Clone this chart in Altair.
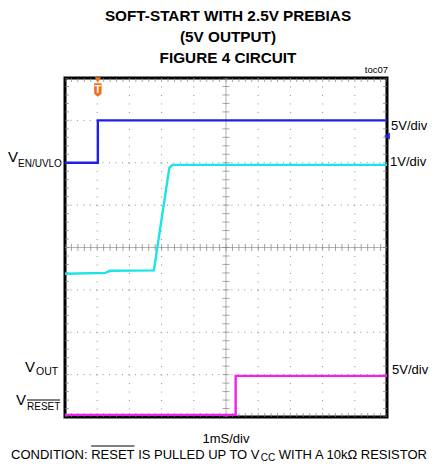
import altair as alt
import pandas as pd

# ---- scope readings, in screen divisions (x: 10 div at 1 ms/div, y: 8 div) ----
en_x = [0.0, 1.02, 1.02, 10.0]          # V_EN/UVLO (5V/div)
en_y = [6.00, 6.00, 7.00, 7.00]
vout_x = [0.0, 1.25, 1.40, 2.76, 3.24, 3.34, 10.0]   # V_OUT (1V/div)
vout_y = [3.38, 3.40, 3.45, 3.46, 5.88, 5.95, 5.95]
rst_x = [0.0, 5.30, 5.30, 10.0]         # V_RESET (5V/div)
rst_y = [0.05, 0.05, 0.97, 0.97]

trigger_x = [1.02]
ch_marker_y = [6.63]

grid_x = [1, 2, 3, 4, 6, 7, 8, 9]
grid_y = [1, 2, 3, 5, 6, 7]
minor_x = [i / 5 for i in range(51)]
minor_y = [i / 5 for i in range(41)]

BLUE = "#2020e6"
CYAN = "#18e4ea"
MAGENTA = "#ee22ee"
ORANGE = "#f07020"
GRIDC = "#8a8a8a"
FONT = "Liberation Sans, Arial, sans-serif"

# Arial / Liberation Sans advance widths (per 1000 em) for text layout
AW = {c: 722 for c in "CDHNRU"}
AW.update({"O": 778, "I": 278, "T": 611, ":": 278, " ": 278, "E": 667, "S": 667,
           "P": 667, "L": 556, "V": 667, "W": 944, "A": 667, "1": 556, "0": 556,
           "k": 500, "\u03a9": 768})

def tw(s, size):
    return sum(AW.get(c, 600) for c in s) * size / 1000.0

W, H = 322, 339
xs = alt.Scale(domain=[0, 10], nice=False, zero=False)
ys = alt.Scale(domain=[0, 8], nice=False, zero=False)

traces = pd.concat([
    pd.DataFrame({"t": en_x, "v": en_y, "ch": "EN", "o": range(len(en_x))}),
    pd.DataFrame({"t": vout_x, "v": vout_y, "ch": "OUT", "o": range(len(vout_x))}),
    pd.DataFrame({"t": rst_x, "v": rst_y, "ch": "RST", "o": range(len(rst_x))}),
])

hgrid = alt.Chart(pd.DataFrame({"y": grid_y})).mark_rule(
    color=GRIDC, strokeWidth=1, strokeDash=[1, 5.44]
).encode(y=alt.Y("y:Q", scale=ys, axis=None))

vgrid = alt.Chart(pd.DataFrame({"x": grid_x})).mark_rule(
    color=GRIDC, strokeWidth=1, strokeDash=[1, 7.475]
).encode(x=alt.X("x:Q", scale=xs, axis=None))

hcenter = alt.Chart(pd.DataFrame({"y": [4]})).mark_rule(
    color="#a0a0a0", strokeWidth=0.8
).encode(y=alt.Y("y:Q", scale=ys, axis=None))
vcenter = alt.Chart(pd.DataFrame({"x": [5]})).mark_rule(
    color="#a0a0a0", strokeWidth=0.8
).encode(x=alt.X("x:Q", scale=xs, axis=None))

def xticks(yval, size):
    return alt.Chart(pd.DataFrame({"x": minor_x, "y": [yval] * len(minor_x)})).mark_tick(
        orient="vertical", size=size, thickness=1, color="#808080", clip=True
    ).encode(x=alt.X("x:Q", scale=xs, axis=None), y=alt.Y("y:Q", scale=ys, axis=None))

def yticks(xval, size):
    return alt.Chart(pd.DataFrame({"y": minor_y, "x": [xval] * len(minor_y)})).mark_tick(
        orient="horizontal", size=size, thickness=1, color="#808080", clip=True
    ).encode(x=alt.X("x:Q", scale=xs, axis=None), y=alt.Y("y:Q", scale=ys, axis=None))

lines = alt.Chart(traces).mark_line(strokeWidth=2.4, clip=True).encode(
    x=alt.X("t:Q", scale=xs, axis=None),
    y=alt.Y("v:Q", scale=ys, axis=None),
    color=alt.Color("ch:N", scale=alt.Scale(domain=["EN", "OUT", "RST"],
                                             range=[BLUE, CYAN, MAGENTA]), legend=None),
    order="o:Q",
    detail="ch:N",
)

ch_marker = alt.Chart(pd.DataFrame({"x": [10], "y": ch_marker_y})).mark_point(
    shape="triangle-left", filled=True, size=45, color=BLUE, opacity=1
).encode(x=alt.X("x:Q", scale=xs, axis=None), y=alt.Y("y:Q", scale=ys, axis=None))

trig_df = pd.DataFrame({"x": trigger_x})
trig_tri = alt.Chart(trig_df).mark_point(
    shape="triangle-down", filled=True, size=40, color=ORANGE, opacity=1
).encode(x=alt.X("x:Q", scale=xs, axis=None), y=alt.value(2))
trig_body = alt.Chart(trig_df).mark_point(
    shape="M-0.55,-1 L0.55,-1 L0.55,0.55 L0,1 L-0.55,0.55 Z",
    filled=True, size=180, color=ORANGE, opacity=1
).encode(x=alt.X("x:Q", scale=xs, axis=None), y=alt.value(12))
trig_txt = alt.Chart(trig_df).mark_text(
    text="T", color="white", fontSize=10, fontWeight="bold", font=FONT, baseline="middle"
).encode(x=alt.X("x:Q", scale=xs, axis=None), y=alt.value(12))

one = pd.DataFrame({"a": [0]})

def label(text, x, y, size=13, align="left", weight="normal"):
    return alt.Chart(one).mark_text(
        text=text, x=x, y=y, fontSize=size, align=align, baseline="alphabetic",
        font=FONT, fontWeight=weight, color="black"
    ).encode(opacity=alt.value(1))

def overline(x1, x2, y):
    return alt.Chart(one).mark_rule(color="black", strokeWidth=1).encode(
        x=alt.value(x1), x2=alt.value(x2), y=alt.value(y)
    )

# condition line laid out piece by piece (leading spaces handled in layout)
CF, SF = 13, 10
cx0 = -54
cy = 381
p1 = "CONDITION:"
p2 = "RESET"
p3 = "IS PULLED UP TO V"
p4 = "CC"
p5 = "WITH A 10k\u03a9 RESISTOR"
sp = tw(" ", CF)
x2_ = cx0 + tw(p1, CF) + sp
x3_ = x2_ + tw(p2, CF) + sp
x4_ = x3_ + tw(p3, CF) + 0.5
x5_ = x4_ + tw(p4, SF) + sp

texts = [
    label("SOFT-START WITH 2.5V PREBIAS", 163, -57, 15.3, "center", "bold"),
    label("(5V OUTPUT)", 163, -36, 15.3, "center", "bold"),
    label("FIGURE 4 CIRCUIT", 163, -15, 15.3, "center", "bold"),
    label("toc07", 323, -5, 9.5, "right"),
    label("5V/div", 326, 52, 13),
    label("1V/div", 325, 88, 13),
    label("5V/div", 327, 296, 13),
    label("V", -57, 84, 15),
    label("EN/UVLO", -47, 89, 10),
    label("V", -40, 294, 15),
    label("OUT", -29, 297, 10.5),
    label("V", -49, 327, 15),
    label("RESET", -38, 332, 10),
    overline(-38, -5, 322),
    label("1mS/div", 161, 365, 13, "center"),
    label(p1, cx0, cy, CF),
    label(p2, x2_, cy, CF),
    overline(x2_, x2_ + tw(p2, CF), cy - 13),
    label(p3, x3_, cy, CF),
    label(p4, x4_, cy + 2.3, SF),
    label(p5, x5_, cy, CF),
]

chart = alt.layer(
    hgrid, vgrid, hcenter, vcenter,
    xticks(4, 7), yticks(5, 7),
    xticks(8, 8), xticks(0, 8), yticks(0, 8), yticks(10, 8),
    lines, ch_marker, trig_tri, trig_body, trig_txt,
    *texts,
).properties(
    width=W, height=H,
    background="white",
    autosize=alt.AutoSizeParams(type="none"),
    padding={"left": 57, "top": 70, "right": 47, "bottom": 45},
).configure_view(
    stroke="black", strokeWidth=3
)

chart.save("out.html", embed_options={"renderer": "svg", "actions": False})
